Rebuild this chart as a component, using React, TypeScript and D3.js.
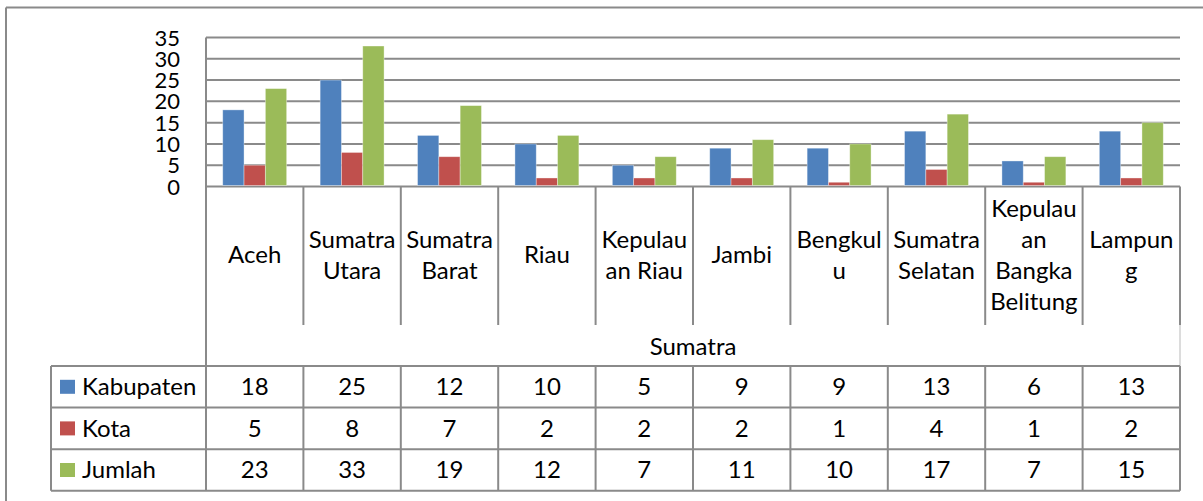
import React from "react";
import * as d3 from "d3";

const categories = [
  "Aceh",
  "Sumatra Utara",
  "Sumatra Barat",
  "Riau",
  "Kepulauan Riau",
  "Jambi",
  "Bengkulu",
  "Sumatra Selatan",
  "Kepulauan Bangka Belitung",
  "Lampung",
];
const categoryLines = [
  ["Aceh"],
  ["Sumatra", "Utara"],
  ["Sumatra", "Barat"],
  ["Riau"],
  ["Kepulau", "an Riau"],
  ["Jambi"],
  ["Bengkul", "u"],
  ["Sumatra", "Selatan"],
  ["Kepulau", "an", "Bangka", "Belitung"],
  ["Lampun", "g"],
];
const groupLabel = "Sumatra";
const seriesNames = ["Kabupaten", "Kota", "Jumlah"];
const kabupaten = [18, 25, 12, 10, 5, 9, 9, 13, 6, 13];
const kota = [5, 8, 7, 2, 2, 2, 1, 4, 1, 2];
const jumlah = [23, 33, 19, 12, 7, 11, 10, 17, 7, 15];
const seriesColors = ["#4F81BD", "#C0504D", "#9BBB59"];
const yTicks = [0, 5, 10, 15, 20, 25, 30, 35];

const W = 1203;
const H = 501;
const FONT = "Lato, 'Open Sans', sans-serif";
const FS = 24;
const TICK_FS = 22;
const GRID = "#8a8a8a";

export default function App() {
  const series = [kabupaten, kota, jumlah];
  const x0 = 206;
  const x1 = 1180;
  const yBase = 186.5;
  const yTop = 37.5;
  const labelBottom = 325;
  const tableTop = 366;
  const rowH = 41.6;
  const tableLeft = 51;

  const x = d3.scaleBand<string>().domain(categories).range([x0, x1]).paddingInner(0).paddingOuter(0);
  const xs = d3
    .scaleBand<string>()
    .domain(seriesNames)
    .range([0, x.bandwidth()])
    .paddingInner(0)
    .paddingOuter(0.785);
  const y = d3.scaleLinear().domain([0, 35]).range([yBase, yTop]);

  const rowTops = seriesNames.map((_, i) => tableTop + i * rowH);
  const tableBottom = tableTop + seriesNames.length * rowH;
  const boundaries = categories.map((c) => x(c) as number).concat([x1]);

  return (
    <svg
      width={W}
      height={H}
      style={{ position: "absolute", left: 0, top: 0, background: "#fff" }}
      fontFamily={FONT}
    >
      <rect x={0} y={0} width={W} height={H} fill="#fff" />
      {/* outer frame */}
      <line x1={6} y1={7.5} x2={W} y2={7.5} stroke={GRID} strokeWidth={2} />
      <line x1={6} y1={7.5} x2={6} y2={H} stroke={GRID} strokeWidth={2} />

      {/* gridlines */}
      {yTicks.map((t) => (
        <line key={"g" + t} x1={x0} x2={x1} y1={y(t)} y2={y(t)} stroke={GRID} strokeWidth={2} />
      ))}
      {/* y tick labels */}
      {yTicks.map((t) => (
        <text key={"t" + t} x={180} y={y(t) + 8} textAnchor="end" fontSize={TICK_FS} fill="#000">
          {t}
        </text>
      ))}

      {/* bars */}
      {categories.map((c, ci) =>
        seriesNames.map((s, si) => {
          const v = series[si][ci];
          const bx = (x(c) as number) + (xs(s) as number);
          return (
            <rect
              key={c + s}
              x={bx}
              y={y(v)}
              width={xs.bandwidth()}
              height={yBase - y(v) - 1}
              fill={seriesColors[si]}
              stroke="#ffffff"
              strokeOpacity={0.45}
              strokeWidth={0.8}
            />
          );
        })
      )}

      {/* vertical lines: left axis, category dividers, right edge */}
      <line x1={x0} x2={x0} y1={yTop} y2={tableBottom} stroke={GRID} strokeWidth={2} />
      {boundaries.slice(1, -1).map((bx, i) => (
        <line key={"d" + i} x1={bx} x2={bx} y1={yBase} y2={labelBottom} stroke={GRID} strokeWidth={2} />
      ))}
      <line x1={x1} x2={x1} y1={yBase} y2={labelBottom} stroke={GRID} strokeWidth={2} />
      <line x1={x1} x2={x1} y1={labelBottom} y2={tableTop} stroke="#d0d0d0" strokeWidth={1.5} />

      {/* category labels */}
      {categories.map((c, ci) => {
        const lines = categoryLines[ci];
        const cx = (x(c) as number) + x.bandwidth() / 2;
        return lines.map((ln, li) => (
          <text
            key={c + li}
            x={cx}
            y={263 + (li - (lines.length - 1) / 2) * 31}
            textAnchor="middle"
            fontSize={FS}
            fill="#000"
          >
            {ln}
          </text>
        ));
      })}
      {/* group label */}
      <text x={(x0 + x1) / 2} y={355} textAnchor="middle" fontSize={FS} fill="#000">
        {groupLabel}
      </text>

      {/* data table */}
      {rowTops.concat([tableBottom]).map((ry, i) => (
        <line key={"h" + i} x1={tableLeft} x2={x1} y1={ry} y2={ry} stroke={GRID} strokeWidth={2} />
      ))}
      <line x1={tableLeft} x2={tableLeft} y1={tableTop} y2={tableBottom} stroke={GRID} strokeWidth={2} />
      {boundaries.slice(1).map((bx, i) => (
        <line key={"tv" + i} x1={bx} x2={bx} y1={tableTop} y2={tableBottom} stroke={GRID} strokeWidth={2} />
      ))}
      {seriesNames.map((s, si) => (
        <g key={"row" + s}>
          <rect x={60} y={rowTops[si] + rowH / 2 - 7} width={15} height={14} fill={seriesColors[si]} />
          <text x={82} y={rowTops[si] + 29} fontSize={FS} fill="#000">
            {s}
          </text>
          {categories.map((c, ci) => (
            <text
              key={s + c}
              x={(x(c) as number) + x.bandwidth() / 2}
              y={rowTops[si] + 29}
              textAnchor="middle"
              fontSize={FS}
              fill="#000"
            >
              {series[si][ci]}
            </text>
          ))}
        </g>
      ))}
    </svg>
  );
}
